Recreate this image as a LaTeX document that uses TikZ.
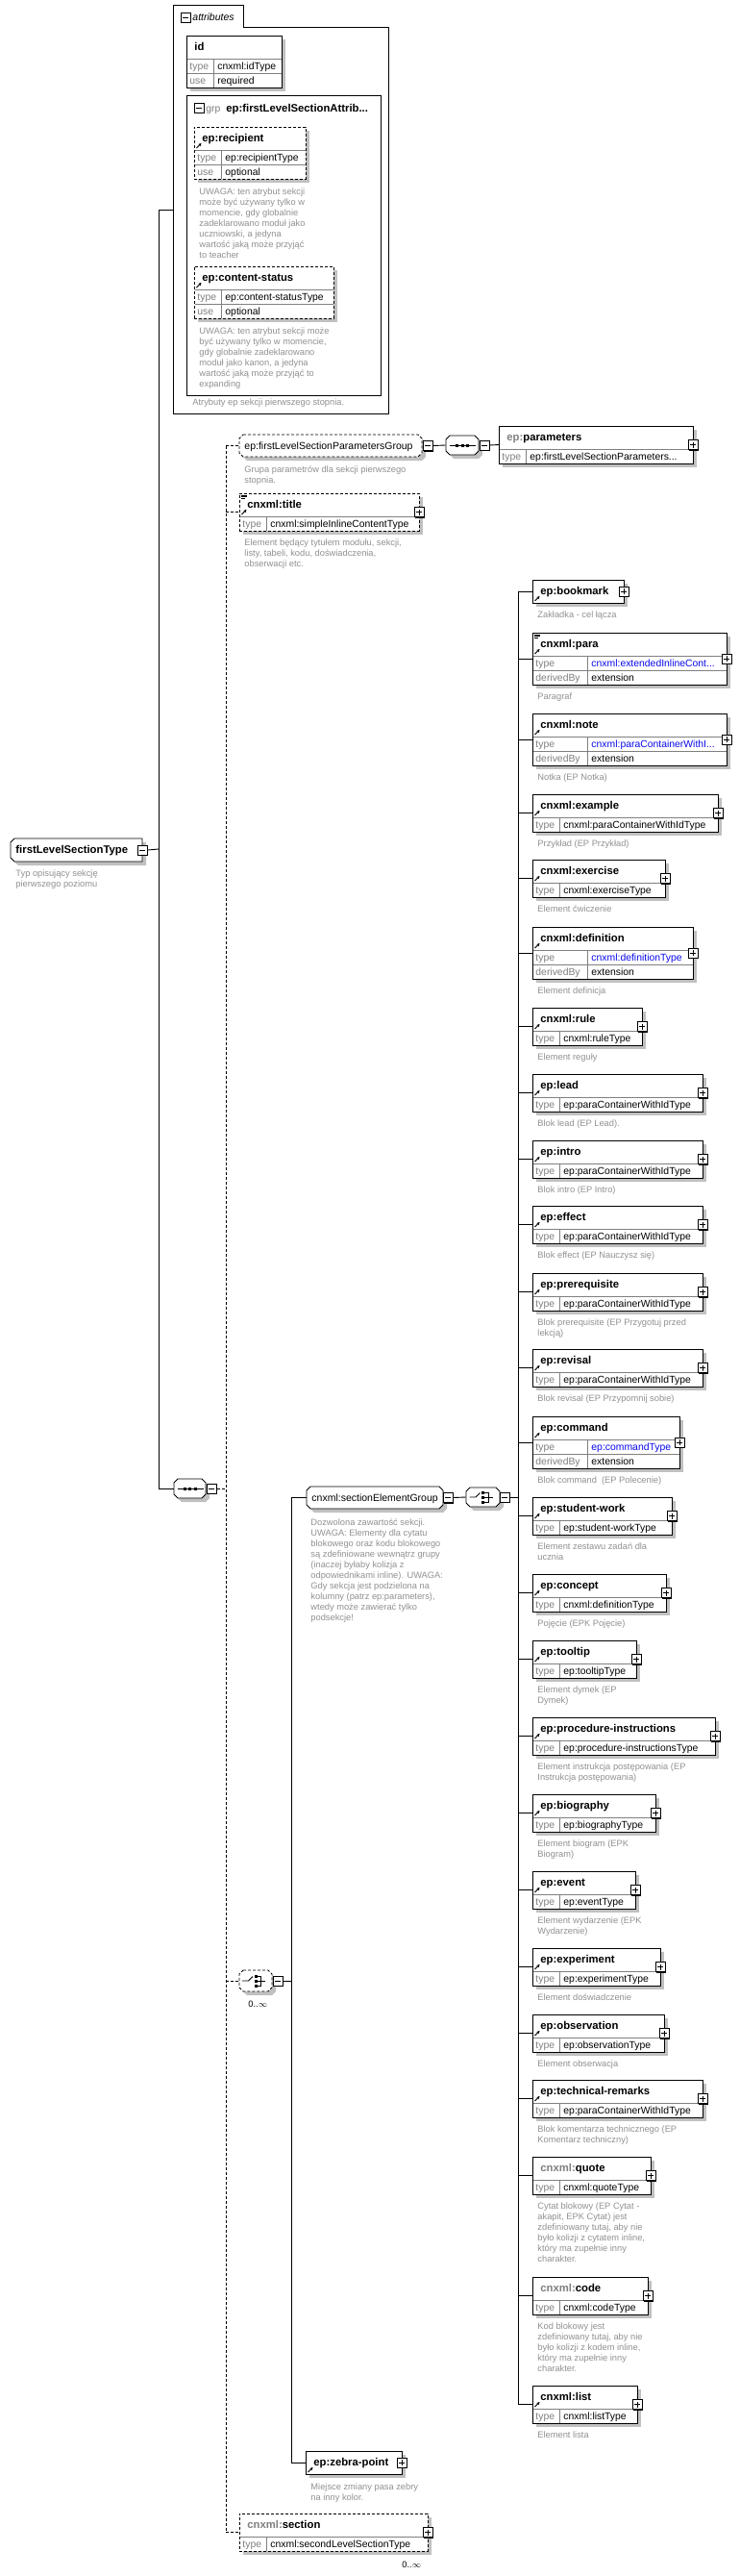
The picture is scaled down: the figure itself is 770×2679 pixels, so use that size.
\documentclass[tikz,border=0pt]{standalone}
\usepackage{fontspec}
\setmainfont{Liberation Sans}
\usepackage{xcolor}
\usepackage{tikz}
\usetikzlibrary{arrows.meta,shadows}

\definecolor{shadowgray}{RGB}{192,192,192}
\definecolor{keygray}{RGB}{128,128,128}
\definecolor{rowgray}{RGB}{128,128,128}
\definecolor{notegray}{RGB}{145,145,145}
\definecolor{typeblue}{RGB}{10,10,235}

% box of an element: name, style, x1, y1, x2, y2, label
\newcommand{\elem}[7]{%
  \fill[shadowgray] (#3+4,#4+4) rectangle (#5+4,#6+4);
  \node[elbox,#2,minimum width={#5-#3},minimum height={#6-#4}] (#1) at (#3,#4) {};
  \node[elname] (#1-l) at (#3+8,#4+15.5) {#7};
}
% one row: name, x1, x2, top, divider, key, value
\newcommand{\elrow}[7]{%
  \draw[rowline] (#2+0.5,#4) -- (#3-0.5,#4) (#5,#4) -- (#5,#4+15);
  \node[rowkey] (#1-#6) at (#2+3,#4+11) {#6};
  \node[rowval] (#1-#6v) at (#5+4,#4+11) {#7};
}
\newcommand{\refmark}[2]{\draw[refarrow] (#1+2.5,#2+22) -- (#1+7.5,#2+17);}
\newcommand{\mixmark}[2]{\draw[line width=0.6pt] (#1+2,#2+1.8) -- ++(6,0) (#1+2,#2+3.4) -- ++(6,0) (#1+2,#2+5) -- ++(4,0);}
\newcommand{\plusbox}[2]{%
  \node[iconbox] (#1) at (#2) {};
  \draw[line width=0.8pt] ([xshift=-3pt]#1.center) -- ([xshift=3pt]#1.center) ([yshift=-3pt]#1.center) -- ([yshift=3pt]#1.center);
}
\newcommand{\minusbox}[2]{%
  \node[iconbox] (#1) at (#2) {};
  \draw[line width=0.8pt] ([xshift=-3pt]#1.center) -- ([xshift=3pt]#1.center);
}
\newcommand{\minusplain}[2]{%
  \node[iconplain] (#1) at (#2) {};
  \draw[line width=0.8pt] ([xshift=-3pt]#1.center) -- ([xshift=3pt]#1.center);
}
% note text: name, x, baseline of first line, text
\newcommand{\elnote}[4]{\node[elnote] (#1) at (#2,#3-8) {\rule{0pt}{8pt}#4};}
% referenced element with a type row
\newcommand{\typeel}[6]{%
  \elem{#1}{}{554}{#3}{#2}{#3+39}{#4}
  \elrow{#1}{554}{#2}{#3+24}{582}{type}{#5}
  \refmark{554}{#3}
  \plusbox{#1-x}{#1.east}
  \elnote{#1-n}{559}{#3+54}{#6}
}
% referenced element with type and derivedBy rows
\newcommand{\derivedel}[6]{%
  \elem{#1}{}{554}{#3}{#2}{#3+54}{#4}
  \elrow{#1}{554}{#2}{#3+24}{611}{type}{\textcolor{typeblue}{#5}}
  \elrow{#1}{554}{#2}{#3+39}{611}{derivedBy}{extension}
  \refmark{554}{#3}
  \plusbox{#1-x}{#1.east}
  \elnote{#1-n}{559}{#3+69}{#6}
}
% group / compositor outline
\newcommand{\octbox}[6]{%
  \fill[shadowgray,shift={(4,4)}] (#3+4,#4) -- (#5-4,#4) -- (#5,#4+4) -- (#5,#6-4) -- (#5-4,#6) -- (#3+4,#6) -- (#3,#6-4) -- (#3,#4+4) -- cycle;
  \draw[fill=white,#2] (#3+4,#4) -- (#5-4,#4) -- (#5,#4+4) -- (#5,#6-4) -- (#5-4,#6) -- (#3+4,#6) -- (#3,#6-4) -- (#3,#4+4) -- cycle;
  \node[inner sep=0pt,minimum width={#5-#3},minimum height={#6-#4}] (#1) at ({(#3+#5)/2},{(#4+#6)/2}) {};
}
\newcommand{\seqicon}[1]{%
  \begin{scope}[shift={(#1.center)}]
    \draw[line width=0.8pt] (-13,0) -- (14,0);
    \foreach \dx in {-5.5,0,5.5} \fill (\dx-1.5,-1.5) rectangle (\dx+1.5,1.5);
  \end{scope}
}
\newcommand{\choiceicon}[1]{%
  \begin{scope}[shift={(#1.center)}]
    \draw[line width=0.8pt] (-14,0) -- (-7.5,0) -- (-3,-4.5);
    \foreach \dy in {-5,0,5} \fill (-1.5,\dy-1.5) rectangle (1.5,\dy+1.5);
    \draw[line width=0.8pt] (1.5,-5) -- (5.5,-5) -- (5.5,5) -- (1.5,5) (1.5,0) -- (10,0);
  \end{scope}
}

\begin{document}
\begin{tikzpicture}[x=1pt,y=-1pt,line width=0.9pt]
\tikzstyle{elbox} = [draw, fill=white, inner sep=0pt, outer sep=0pt, anchor=north west]
\tikzstyle{optbox} = [dash pattern=on 3pt off 2pt]
\tikzstyle{optline} = [dash pattern=on 3pt off 2pt]
\tikzstyle{elname} = [font=\fontsize{11.3}{13}\selectfont\bfseries, anchor=base west, inner sep=0pt]
\tikzstyle{grpname} = [font=\fontsize{10.5}{12}\selectfont, anchor=base west, inner sep=0pt]
\tikzstyle{rowkey} = [font=\fontsize{10.4}{12}\selectfont, text=keygray, anchor=base west, inner sep=0pt]
\tikzstyle{rowval} = [font=\fontsize{10.4}{12}\selectfont, anchor=base west, inner sep=0pt]
\tikzstyle{elnote} = [font=\fontsize{9.3}{11}\selectfont, text=notegray, anchor=north west, inner sep=0pt, align=left]
\tikzstyle{rowline} = [draw=rowgray, line width=0.8pt]
\tikzstyle{refarrow} = [-{Stealth[length=3.2pt,width=3.2pt]}, line width=0.9pt]
\tikzstyle{iconbox} = [draw, fill=white, inner sep=0pt, minimum size=10pt, line width=0.9pt, general shadow={fill=black, shadow xshift=1pt, shadow yshift=-1pt}]
\tikzstyle{iconplain} = [draw, fill=white, inner sep=0pt, minimum size=10pt, line width=0.8pt]
\tikzstyle{mult} = [font=\fontsize{9.3}{11}\selectfont, anchor=base west, inner sep=0pt]

\fill[white] (0,0) rectangle (770,2679);
\useasboundingbox (0,0) rectangle (770,2679);

% the complex type
\fill[shadowgray,shift={(4,4)}] (15,872) -- (148,872) -- (148,896) -- (15,896) -- (11,892) -- (11,876) -- cycle;
\draw[fill=white] (15,872) -- (148,872) -- (148,896) -- (15,896) -- (11,892) -- (11,876) -- cycle;
\node[inner sep=0pt,minimum width=137,minimum height=24] (ftype) at (79.5,884) {};
\node[elname] (ftype-l) at (16,887.5) {firstLevelSectionType};
\minusbox{ftype-m}{ftype.east}
\elnote{ftype-n}{16}{911}{Typ opisujący sekcję\\pierwszego poziomu}

% attributes
\draw (180,5) -- (253,5) -- (253,28) -- (404,28) -- (404,430) -- (180,430) -- cycle;
\coordinate (attrs) at (180,218);
\minusplain{attrs-m}{193,18}
\node[grpname, font=\fontsize{10.5}{12}\selectfont\itshape] (attrs-l) at (200,22) {attributes};

\elem{id}{}{194}{37}{293}{91}{id}
\elrow{id}{194}{293}{61}{222}{type}{cnxml:idType}
\elrow{id}{194}{293}{76}{222}{use}{required}

\node[draw, inner sep=0pt, anchor=north west, minimum width=202, minimum height=312] (attgrp) at (194,99) {};
\minusplain{attgrp-m}{207,112}
\node[rowkey] (attgrp-k) at (214,116.5) {grp};
\node[elname] (attgrp-l) at (235,116.5) {ep:firstLevelSectionAttrib...};

\elem{recipient}{optbox}{202}{132}{318}{186}{ep:recipient}
\elrow{recipient}{202}{318}{156}{230}{type}{ep:recipientType}
\elrow{recipient}{202}{318}{171}{230}{use}{optional}
\refmark{202}{132}
\elnote{recipient-n}{207}{202}{UWAGA: ten atrybut sekcji\\może być używany tylko w\\momencie, gdy globalnie\\zadeklarowano moduł jako\\uczniowski, a jedyna\\wartość jaką może przyjąć\\to teacher}

\elem{cstatus}{optbox}{202}{277}{347}{331}{ep:content-status}
\elrow{cstatus}{202}{347}{301}{230}{type}{ep:content-statusType}
\elrow{cstatus}{202}{347}{316}{230}{use}{optional}
\refmark{202}{277}
\elnote{cstatus-n}{207}{347}{UWAGA: ten atrybut sekcji może\\być używany tylko w momencie,\\gdy globalnie zadeklarowano\\moduł jako kanon, a jedyna\\wartość jaką może przyjąć to\\expanding}
\elnote{attgrp-n}{200}{421}{Atrybuty ep sekcji pierwszego stopnia.}

% main sequence
\octbox{seqmain}{}{181}{1538}{214}{1558}
\seqicon{seqmain}
\minusbox{seqmain-m}{[xshift=6pt]seqmain.east}

% parameters group
\octbox{paramgrp}{optbox}{249}{452}{439}{475}
\node[grpname] (paramgrp-l) at (254,467.5) {ep:firstLevelSectionParametersGroup};
\minusbox{paramgrp-m}{[xshift=6pt]paramgrp.east}
\elnote{paramgrp-n}{254}{491}{Grupa parametrów dla sekcji pierwszego\\stopnia.}
\octbox{seqparam}{}{464}{453}{498}{473}
\seqicon{seqparam}
\minusbox{seqparam-m}{[xshift=5.5pt]seqparam.east}
\elem{parameters}{}{519}{443}{721}{482}{\textcolor{keygray}{ep:}parameters}
\elrow{parameters}{519}{721}{467}{547}{type}{ep:firstLevelSectionParameters...}
\plusbox{parameters-x}{parameters.east}

% title
\elem{title}{optbox}{249}{513}{436}{552}{cnxml:title}
\elrow{title}{249}{436}{537}{277}{type}{cnxml:simpleInlineContentType}
\refmark{249}{513}
\mixmark{249}{513}
\plusbox{title-x}{title.east}
\elnote{title-n}{254}{567}{Element będący tytułem modułu, sekcji,\\listy, tabeli, kodu, doświadczenia,\\obserwacji etc.}

% choice of content
\octbox{choicemain}{optbox}{249}{2049}{283}{2071}
\choiceicon{choicemain}
\minusbox{choicemain-m}{[xshift=5.5pt]choicemain.east}
\node[mult] (choicemain-k) at (258,2087) {0..$\infty$};

\octbox{segroup}{}{319}{1546}{461}{1569}
\node[grpname] (segroup-l) at (324,1561.5) {cnxml:sectionElementGroup};
\minusbox{segroup-m}{[xshift=5pt]segroup.east}
\elnote{segroup-n}{323}{1586}{Dozwolona zawartość sekcji.\\UWAGA: Elementy dla cytatu\\blokowego oraz kodu blokowego\\są zdefiniowane wewnątrz grupy\\(inaczej byłaby kolizja z\\odpowiednikami inline). UWAGA:\\Gdy sekcja jest podzielona na\\kolumny (patrz ep:parameters),\\wtedy może zawierać tylko\\podsekcje!}
\octbox{choiceel}{}{485}{1547}{520}{1567}
\choiceicon{choiceel}
\minusbox{choiceel-m}{[xshift=5pt]choiceel.east}

\elem{zebra}{}{318}{2549}{418}{2573}{ep:zebra-point}
\refmark{318}{2549}
\plusbox{zebra-x}{zebra.east}
\elnote{zebra-n}{323}{2589}{Miejsce zmiany pasa zebry\\na inny kolor.}

% subsections
\elem{section}{optbox}{249}{2614}{445}{2653}{\textcolor{keygray}{cnxml:}section}
\elrow{section}{249}{445}{2638}{277}{type}{cnxml:secondLevelSectionType}
\plusbox{section-x}{section.east}
\node[mult] (section-k) at (418,2670) {0..$\infty$};

% elements of the section
\elem{bookmark}{}{554}{603}{649}{627}{ep:bookmark}
\refmark{554}{603}
\plusbox{bookmark-x}{bookmark.east}
\elnote{bookmark-n}{559}{642}{Zakładka - cel łącza}
\derivedel{para}{756}{658}{cnxml:para}{cnxml:extendedInlineCont...}{Paragraf}
\mixmark{554}{658}
\derivedel{note}{756}{742}{cnxml:note}{cnxml:paraContainerWithI...}{Notka (EP Notka)}
\typeel{example}{747}{826}{cnxml:example}{cnxml:paraContainerWithIdType}{Przykład (EP Przykład)}
\typeel{exercise}{692}{894}{cnxml:exercise}{cnxml:exerciseType}{Element ćwiczenie}
\derivedel{definition}{721}{964}{cnxml:definition}{cnxml:definitionType}{Element definicja}
\typeel{rule}{668}{1048}{cnxml:rule}{cnxml:ruleType}{Element reguły}
\typeel{lead}{731}{1117}{ep:lead}{ep:paraContainerWithIdType}{Blok lead (EP Lead).}
\typeel{intro}{731}{1186}{ep:intro}{ep:paraContainerWithIdType}{Blok intro (EP Intro)}
\typeel{effect}{731}{1254}{ep:effect}{ep:paraContainerWithIdType}{Blok effect (EP Nauczysz się)}
\typeel{prerequisite}{731}{1324}{ep:prerequisite}{ep:paraContainerWithIdType}{Blok prerequisite (EP Przygotuj przed\\lekcją)}
\typeel{revisal}{731}{1403}{ep:revisal}{ep:paraContainerWithIdType}{Blok revisal (EP Przypomnij sobie)}
\derivedel{command}{707}{1473}{ep:command}{ep:commandType}{Blok command\ \ (EP Polecenie)}
\typeel{studentwork}{699}{1557}{ep:student-work}{ep:student-workType}{Element zestawu zadań dla\\ucznia}
\typeel{concept}{693}{1637}{ep:concept}{cnxml:definitionType}{Pojęcie (EPK Pojęcie)}
\typeel{tooltip}{662}{1706}{ep:tooltip}{ep:tooltipType}{Element dymek (EP\\Dymek)}
\typeel{procedure}{744}{1786}{ep:procedure-instructions}{ep:procedure-instructionsType}{Element instrukcja postępowania (EP\\Instrukcja postępowania)}
\typeel{biography}{682}{1866}{ep:biography}{ep:biographyType}{Element biogram (EPK\\Biogram)}
\typeel{event}{661}{1946}{ep:event}{ep:eventType}{Element wydarzenie (EPK\\Wydarzenie)}
\typeel{experiment}{687}{2026}{ep:experiment}{ep:experimentType}{Element doświadczenie}
\typeel{observation}{691}{2095}{ep:observation}{ep:observationType}{Element obserwacja}
\typeel{techremarks}{731}{2163}{ep:technical-remarks}{ep:paraContainerWithIdType}{Blok komentarza technicznego (EP\\Komentarz techniczny)}
\elem{quote}{}{554}{2243}{677}{2282}{\textcolor{keygray}{cnxml:}quote}
\elrow{quote}{554}{677}{2267}{582}{type}{cnxml:quoteType}
\plusbox{quote-x}{quote.east}
\elnote{quote-n}{559}{2297}{Cytat blokowy (EP Cytat -\\akapit, EPK Cytat) jest\\zdefiniowany tutaj, aby nie\\było kolizji z cytatem inline,\\który ma zupełnie inny\\charakter.}
\elem{code}{}{554}{2368}{674}{2407}{\textcolor{keygray}{cnxml:}code}
\elrow{code}{554}{674}{2392}{582}{type}{cnxml:codeType}
\plusbox{code-x}{code.east}
\elnote{code-n}{559}{2422}{Kod blokowy jest\\zdefiniowany tutaj, aby nie\\było kolizji z kodem inline,\\który ma zupełnie inny\\charakter.}
\typeel{list}{663}{2481}{cnxml:list}{cnxml:listType}{Element lista}

% connectors
\coordinate (trunk) at (165,883);
\coordinate (seqbus) at (235,1548);
\coordinate (chbus) at (303,2059);
\coordinate (elbus) at (539,1557);
\draw (ftype-m.east) -- (trunk);
\draw (trunk |- attrs) -- (trunk |- seqmain.west);
\draw (trunk |- attrs) -- (attrs);
\draw (trunk |- seqmain.west) -- (seqmain.west);
\draw[optline] (seqmain-m.east) -- (seqbus |- seqmain-m.east);
\draw[optline] (seqbus |- paramgrp.west) -- (seqbus |- section.west);
\foreach \n in {paramgrp,title,choicemain,section}
  \draw[optline] (seqbus |- \n.west) -- (\n.west);
\draw (paramgrp-m.east) -- (seqparam.west);
\draw (seqparam-m.east) -- (parameters.west);
\draw (choicemain-m.east) -- (chbus |- choicemain-m.east);
\draw (chbus |- segroup.west) -- (chbus |- zebra.west);
\draw (chbus |- segroup.west) -- (segroup.west);
\draw (chbus |- zebra.west) -- (zebra.west);
\draw (segroup-m.east) -- (choiceel.west);
\draw (choiceel-m.east) -- (elbus |- choiceel-m.east);
\draw (elbus |- bookmark.west) -- (elbus |- list.west);
\foreach \n in {bookmark,para,note,example,exercise,definition,rule,lead,intro,effect,prerequisite,revisal,command,studentwork,concept,tooltip,procedure,biography,event,experiment,observation,techremarks,quote,code,list}
  \draw (elbus |- \n.west) -- (\n.west);
\end{tikzpicture}
\end{document}
